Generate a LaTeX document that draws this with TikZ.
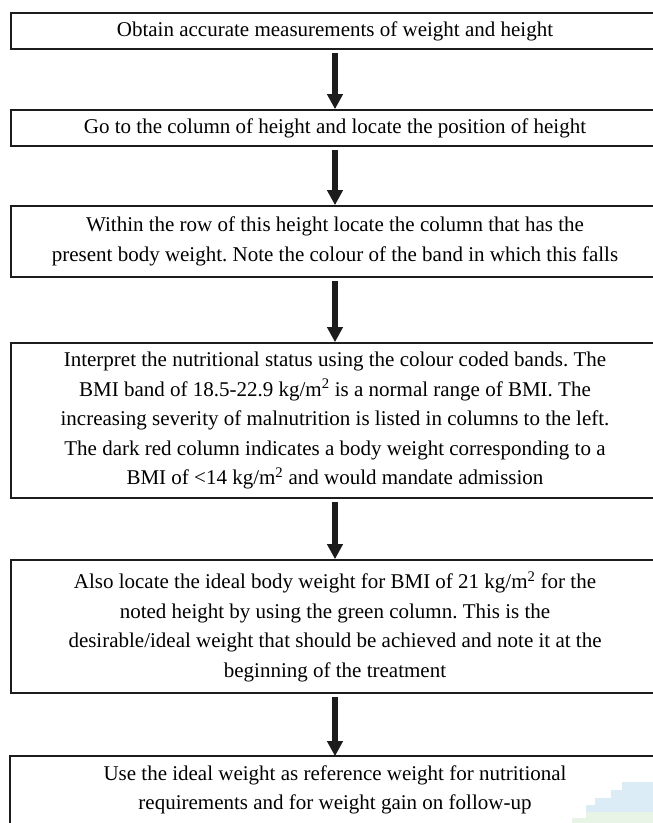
\documentclass[tikz,border=0pt]{standalone}
\usepackage{fontspec}
\setmainfont{Liberation Serif}
\usetikzlibrary{arrows.meta}
\definecolor{ink}{HTML}{1C1C1C}
\definecolor{wmblue}{HTML}{DCECF7}
\definecolor{wmgreen}{HTML}{E8F5E6}
\frenchspacing
\begin{document}
\begin{tikzpicture}[x=1pt,y=-1pt,
  box/.style={draw=ink, line width=1.6pt, minimum width=648pt, inner sep=0pt,
              align=center, font=\fontsize{21}{29.5}\selectfont},
  flow/.style={draw=ink, line width=6pt, shorten <=3pt,
              -{Triangle[width=15pt,length=15pt]}}]
\useasboundingbox (0,0) rectangle (653,823);
% faint watermark in the corner
\fill[wmblue] (622,782) -- (653,782) -- (653,812) -- (586,812) -- (586,805) -- (595,805)
  -- (595,798) -- (611,798) -- (611,790) -- (622,790) -- cycle;
\fill[wmgreen] (586,812) -- (653,812) -- (653,823) -- (572,823) -- (572,818) -- (586,818) -- cycle;

\node[box, minimum height=36pt] (b1) at (335,31)
  {Obtain accurate measurements of weight and height};
\node[box, minimum height=36pt] (b2) at (335,128)
  {Go to the column of height and locate the position of height};
\node[box, minimum height=71pt] (b3) at (335,241.5)
  {Within the row of this height locate the column that has the\\
   present body weight. Note the colour of the band in which this falls};
\node[box, minimum height=155pt] (b4) at (335,420.5)
  {Interpret the nutritional status using the colour coded bands. The\\
   BMI band of 18.5-22.9 kg/m\textsuperscript{2} is a normal range of BMI. The\\
   increasing severity of malnutrition is listed in columns to the left.\\
   The dark red column indicates a body weight corresponding to a\\
   BMI of <14 kg/m\textsuperscript{2} and would mandate admission};
\node[box, minimum height=133pt] (b5) at (335,626.5)
  {Also locate the ideal body weight for BMI of 21 kg/m\textsuperscript{2} for the\\
   noted height by using the green column. This is the\\
   desirable/ideal weight that should be achieved and note it at the\\
   beginning of the treatment};
\node[box, draw=none, minimum height=66pt] (b6) at (335,790)
  {Use the ideal weight as reference weight for nutritional\\
   requirements and for weight gain on follow-up};
\draw[ink, line width=1.6pt] (b6.north west) rectangle ([yshift=-20pt]b6.south east);

\draw[flow] (b1) -- (b2);
\draw[flow] (b2) -- (b3);
\draw[flow] (b3) -- (b4);
\draw[flow] (b4) -- (b5);
\draw[flow] (b5) -- (b6);
\end{tikzpicture}
\end{document}
